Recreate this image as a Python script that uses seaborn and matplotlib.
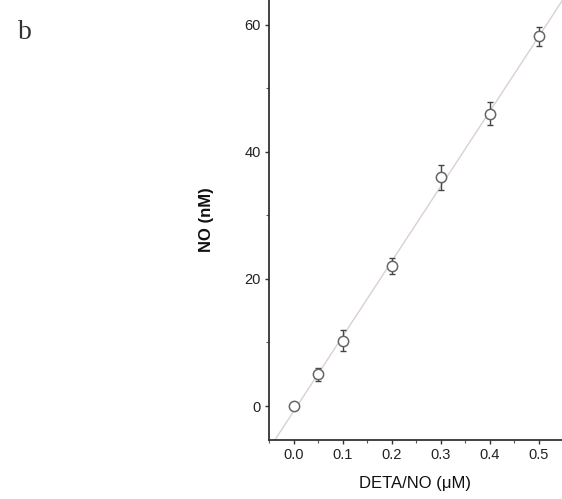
import numpy as np
import pandas as pd
import seaborn as sns
from matplotlib import pyplot as plt
from matplotlib.ticker import MultipleLocator

# values
deta_no = [0.0, 0.05, 0.1, 0.2, 0.3, 0.4, 0.5]
no_nm = [0.0, 5.0, 10.3, 22.0, 36.0, 46.0, 58.2]
no_err = [0.4, 1.0, 1.7, 1.3, 2.0, 1.8, 1.5]

df = pd.DataFrame({'deta_no': deta_no, 'no': no_nm, 'err': no_err})

sns.set_style('ticks')
plt.rcParams['font.family'] = ['Liberation Sans', 'DejaVu Sans']

fig = plt.figure(figsize=(5.62, 4.99), dpi=100)
ax = fig.add_axes([0.4786, 0.1182, 0.5214, 0.8818])

xlim = (-0.051, 0.547)
ylim = (-5.35, 63.9)

# linear fit through the data, drawn across the whole axis
slope, icpt = np.polyfit(df['deta_no'], df['no'], 1)
fit = pd.DataFrame({'x': [xlim[0] - 0.05, xlim[1] + 0.05]})
fit['y'] = icpt + slope * fit['x']
sns.lineplot(data=fit, x='x', y='y', ax=ax, color='#dccfd1', lw=1.0, zorder=2)

ax.errorbar(df['deta_no'], df['no'], yerr=df['err'], fmt='none',
            ecolor='#444444', elinewidth=1.0, capsize=2.5, capthick=1.0, zorder=3)
sns.scatterplot(data=df, x='deta_no', y='no', ax=ax, marker='o', s=55,
                facecolor='white', edgecolor='#666666', linewidth=1.1, zorder=4)

ax.set_xlim(*xlim)
ax.set_ylim(*ylim)
ax.xaxis.set_major_locator(MultipleLocator(0.1))
ax.xaxis.set_minor_locator(MultipleLocator(0.05))
ax.yaxis.set_major_locator(MultipleLocator(20))
ax.yaxis.set_minor_locator(MultipleLocator(10))
ax.set_xticks(np.arange(0, 0.51, 0.1))
ax.set_xticklabels([f'{v:.1f}' for v in np.arange(0, 0.51, 0.1)])

sns.despine(ax=ax)
for s in ['left', 'bottom']:
    ax.spines[s].set_color('#333333')
    ax.spines[s].set_linewidth(1.3)
ax.tick_params(axis='both', which='major', length=3, width=1, color='#333333',
               labelsize=10.5, labelcolor='#222222', pad=3)
ax.tick_params(axis='both', which='minor', length=2, width=0.8, color='#555555')

ax.set_xlabel('DETA/NO (\u03bcM)', fontsize=12, color='#111111', labelpad=10)
ax.set_ylabel('NO (nM)', fontsize=12, color='#111111', fontweight='bold', labelpad=22)

fig.text(0.032, 0.935, 'b', fontsize=20, family='Liberation Serif', color='#333333',
         ha='left', va='center')

fig.savefig('out.png', dpi=100, facecolor='white')
